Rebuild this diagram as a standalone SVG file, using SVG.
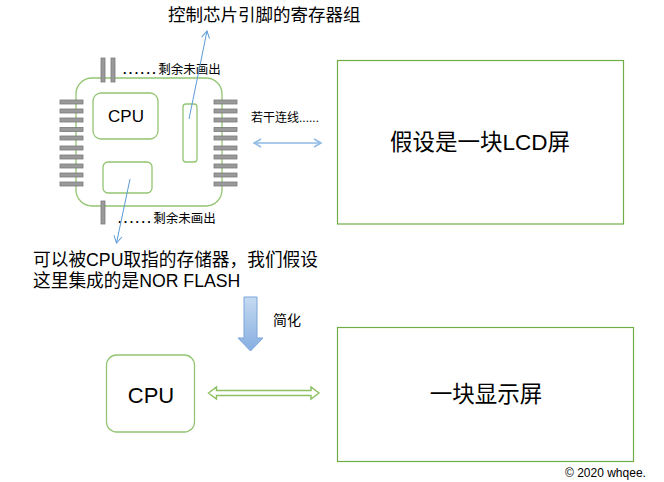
<svg xmlns="http://www.w3.org/2000/svg" width="664" height="482" viewBox="0 0 664 482">
<defs>
<style>
.t{font-family:"Liberation Sans","Noto Sans CJK SC",sans-serif;fill:#000}
.pin{fill:#9a9a9a;stroke:#7a7a7a;stroke-width:0.8}
.lg{fill:none;stroke:#93C572;stroke-width:1.3}
.dg{fill:none;stroke:#70AD47;stroke-width:1.2}
.bl{fill:none;stroke:#5B9BD5;stroke-width:1}
</style>
<marker id="ah" markerUnits="userSpaceOnUse" markerWidth="12" markerHeight="12" refX="8" refY="5" orient="auto">
<path d="M1,1 L8,5 L1,9" fill="none" stroke="#5B9BD5" stroke-width="1"/>
</marker>
<marker id="ah2" markerUnits="userSpaceOnUse" markerWidth="12" markerHeight="12" refX="8" refY="5" orient="auto-start-reverse">
<path d="M1,1 L8,5 L1,9" fill="none" stroke="#8DB9E3" stroke-width="1.5"/>
</marker>
<linearGradient id="bg" x1="0" y1="0" x2="0" y2="1">
<stop offset="0" stop-color="#C6DAF2"/>
<stop offset="1" stop-color="#86AEE0"/>
</linearGradient>
</defs>
<rect width="664" height="482" fill="#fff"/>

<g id="chip">
<rect class="lg" x="76" y="78" width="146" height="128" rx="16"/>
<g id="pins-left">
<rect class="pin" x="60" y="100" width="23" height="4"/>
<rect class="pin" x="60" y="109" width="23" height="4"/>
<rect class="pin" x="60" y="118" width="23" height="4"/>
<rect class="pin" x="60" y="127.5" width="23" height="4"/>
<rect class="pin" x="60" y="136" width="23" height="4"/>
<rect class="pin" x="60" y="146" width="23" height="4"/>
<rect class="pin" x="60" y="155" width="23" height="4"/>
<rect class="pin" x="60" y="164" width="23" height="4"/>
<rect class="pin" x="60" y="173" width="23" height="4"/>
<rect class="pin" x="60" y="182" width="23" height="4"/>
</g>
<g id="pins-right">
<rect class="pin" x="214" y="100" width="23" height="4"/>
<rect class="pin" x="214" y="109" width="23" height="4"/>
<rect class="pin" x="214" y="118" width="23" height="4"/>
<rect class="pin" x="214" y="127.5" width="23" height="4"/>
<rect class="pin" x="214" y="136" width="23" height="4"/>
<rect class="pin" x="214" y="146" width="23" height="4"/>
<rect class="pin" x="214" y="155" width="23" height="4"/>
<rect class="pin" x="214" y="164" width="23" height="4"/>
<rect class="pin" x="214" y="173" width="23" height="4"/>
<rect class="pin" x="214" y="182" width="23" height="4"/>
</g>
<g id="pins-top">
<rect class="pin" x="101" y="58" width="4" height="24"/>
<rect class="pin" x="111" y="58" width="4" height="24"/>
</g>
<g id="pins-bottom">
<rect class="pin" x="101" y="201" width="4" height="23"/>
</g>
<g id="chip-cpu">
<rect class="lg" x="93" y="93" width="65" height="46" rx="8"/>
<text class="t" x="126" y="121.5" font-size="17" text-anchor="middle">CPU</text>
</g>
<g id="chip-regs">
<rect class="lg" x="183" y="104" width="14" height="58" rx="3"/>
</g>
<g id="chip-flash">
<rect class="lg" x="103" y="162" width="49" height="31" rx="5"/>
</g>
</g>

<g id="labels">
<text class="t" x="123" y="74" font-size="12.5"><tspan font-weight="bold" letter-spacing="2.4">......</tspan>剩余未画出</text>
<text class="t" x="118" y="223" font-size="12.5"><tspan font-weight="bold" letter-spacing="2.4">......</tspan>剩余未画出</text>
<text class="t" x="168" y="21" font-size="17.5">控制芯片引脚的寄存器组</text>
<text class="t" x="251" y="121.5" font-size="12">若干连线......</text>
<text class="t" x="33" y="266" font-size="17.7">可以被CPU取指的存储器，我们假设</text>
<text class="t" x="33" y="286.5" font-size="17.7">这里集成的是NOR FLASH</text>
<text class="t" x="273" y="325" font-size="14">简化</text>
<text class="t" x="565" y="477" font-size="12">© 2020 whqee.</text>
</g>

<g id="lcd">
<rect class="dg" x="337.5" y="60.5" width="286" height="163.5"/>
<text class="t" x="480" y="150" font-size="22.5" text-anchor="middle">假设是一块LCD屏</text>
</g>

<g id="display">
<rect class="dg" x="337.5" y="327.5" width="296" height="134"/>
<text class="t" x="486" y="402" font-size="22.5" text-anchor="middle">一块显示屏</text>
</g>

<g id="cpu">
<rect class="lg" x="106.5" y="355" width="88" height="77" rx="10"/>
<text class="t" x="151" y="402.5" font-size="22" text-anchor="middle">CPU</text>
</g>

<g id="connectors">
<line class="bl" x1="189" y1="119" x2="207" y2="31" marker-end="url(#ah)"/>
<line class="bl" x1="130" y1="179" x2="116.5" y2="243" marker-end="url(#ah)"/>
<line x1="254" y1="143" x2="321" y2="143" stroke="#8DB9E3" stroke-width="1.5" marker-start="url(#ah2)" marker-end="url(#ah2)"/>
<path d="M244,297 H257 V338 H263 L250.5,351 L238,338 H244 Z" fill="url(#bg)" stroke="#7AA5D9" stroke-width="1"/>
<path d="M208.5,393 L216.5,387 V390.5 H311 V387 L319,393 L311,399 V395.5 H216.5 V399 Z" fill="#fff" stroke="#8CC063" stroke-width="1.4"/>
</g>
</svg>
